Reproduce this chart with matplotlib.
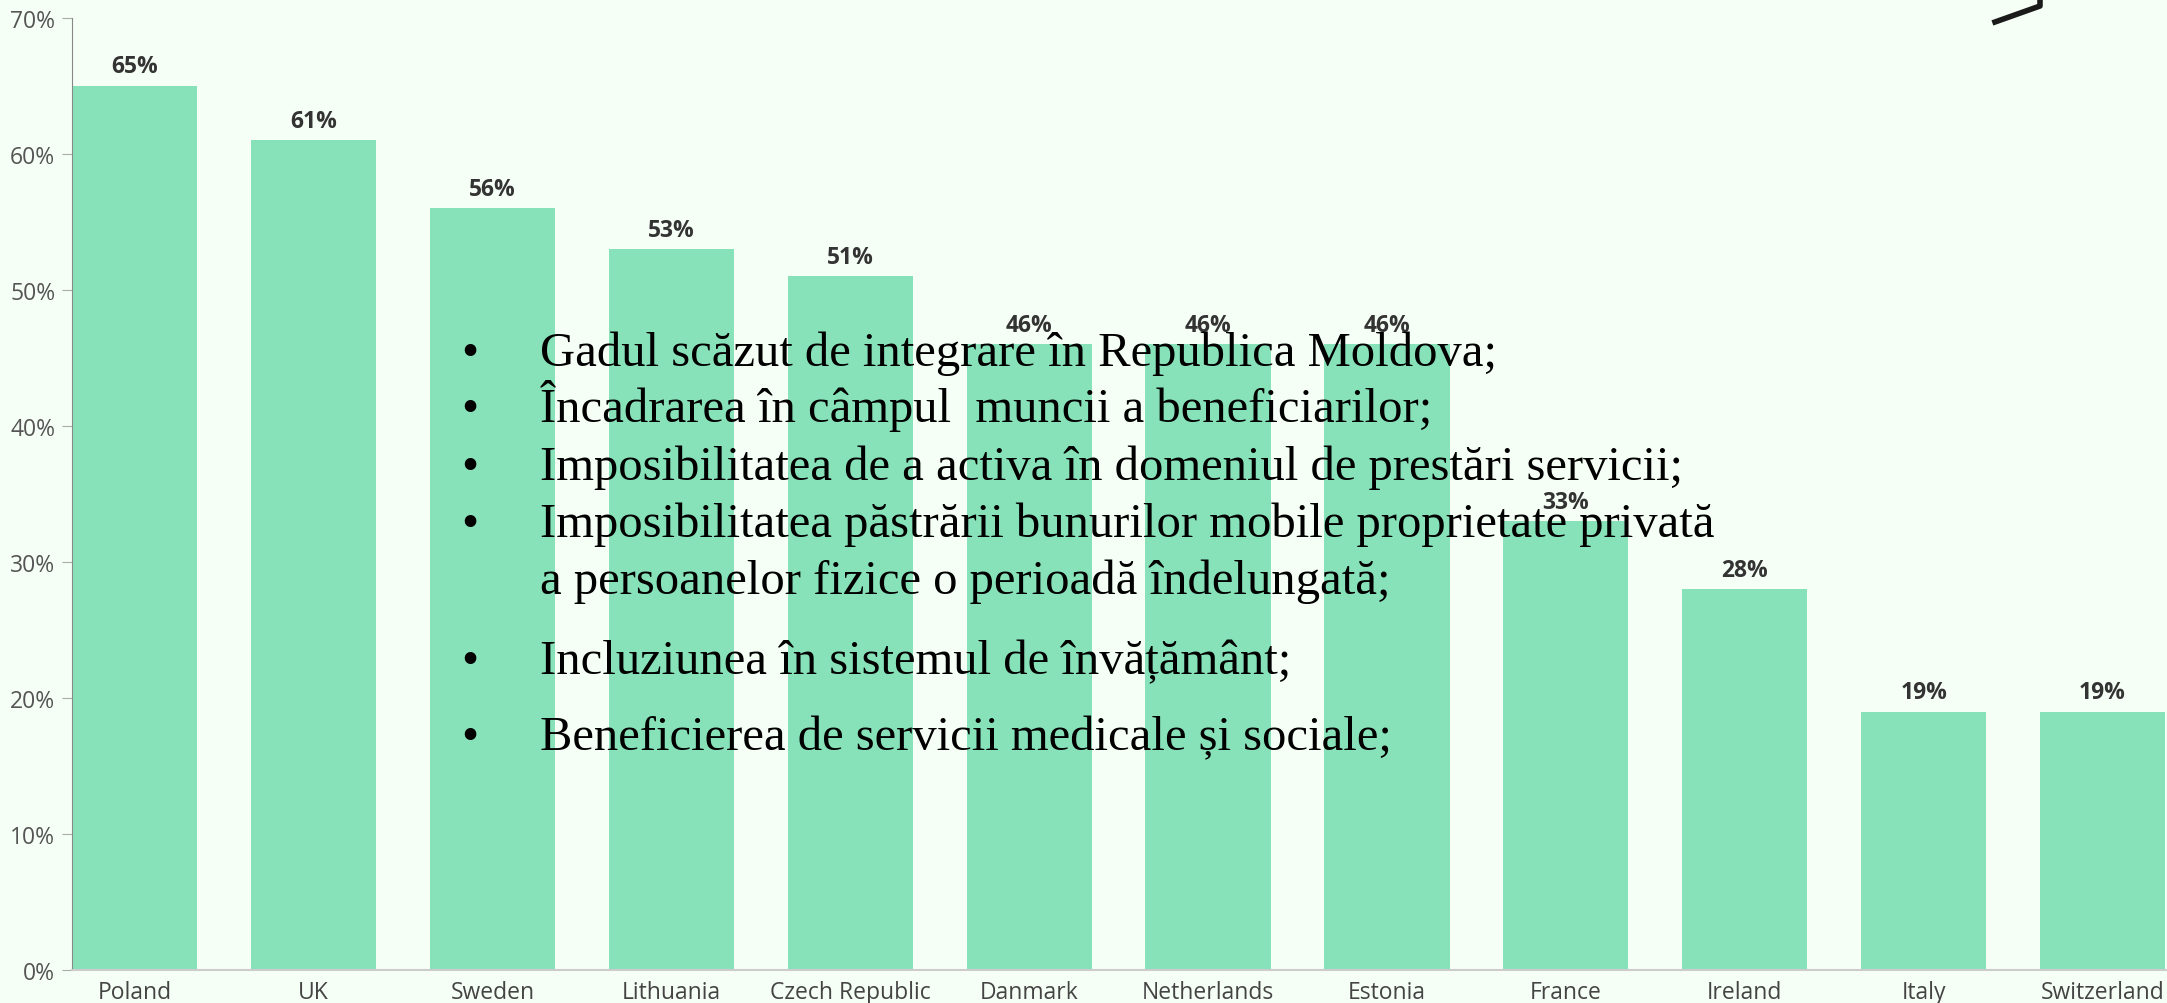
import matplotlib.pyplot as plt
from matplotlib.lines import Line2D

# chart data
countries = ["Poland", "UK", "Sweden", "Lithuania", "Czech Republic", "Danmark",
             "Netherlands", "Estonia", "France", "Ireland", "Italy", "Switzerland"]
shares = [65, 61, 56, 53, 51, 46, 46, 46, 33, 28, 19, 19]
y_ticks = [0, 10, 20, 30, 40, 50, 60, 70]

bullets = [
    "Gadul scăzut de integrare în Republica Moldova;",
    "Încadrarea în câmpul  muncii a beneficiarilor;",
    "Imposibilitatea de a activa în domeniul de prestări servicii;",
    "Imposibilitatea păstrării bunurilor mobile proprietate privată",
    "a persoanelor fizice o perioadă îndelungată;",
    "Incluziunea în sistemul de învățământ;",
    "Beneficierea de servicii medicale și sociale;",
]
has_bullet = [True, True, True, True, False, True, True]

bg = "#f6fff6"
bar_color = "#88e2b9"

fig = plt.figure(figsize=(21.67, 10.04), dpi=100, facecolor=bg)
ax = fig.add_axes([72 / 2167, 1 - 971 / 1004, 1 - 72 / 2167, (971 - 19) / 1004])
ax.set_facecolor(bg)

x = list(range(len(countries)))
ax.bar(x, shares, width=0.70, color=bar_color, zorder=2)

for xi, v in zip(x, shares):
    ax.annotate(f"{v}%", (xi, v), xytext=(0, 5.5), textcoords="offset points",
                ha="center", va="bottom", fontsize=16.5, fontweight="bold",
                color="#333333", family="Open Sans")

ax.set_xlim(-0.35, 11.36)
ax.set_ylim(0, 70)
ax.set_yticks(y_ticks)
ax.set_yticklabels([f"{t}%" for t in y_ticks], fontsize=16.5, color="#555555", family="Open Sans")
ax.set_xticks(x)
ax.set_xticklabels(countries, fontsize=16.5, color="#444444", family="Open Sans")
ax.tick_params(axis="x", length=0, pad=7)
ax.tick_params(axis="y", length=7, color="#aaaaaa", pad=5)

for s in ["top", "right"]:
    ax.spines[s].set_visible(False)
ax.spines["left"].set_color("#888888")
ax.spines["bottom"].set_color("#cccccc")
ax.spines["bottom"].set_linewidth(1.5)

# overlay bullet text (baselines in pixels from top)
baselines = [366, 422, 480, 537, 594, 674, 750]
for yy, txt, b in zip(baselines, bullets, has_bullet):
    if b:
        fig.text(470 / 2167, 1 - yy / 1004, "•", fontsize=35, family="Liberation Serif",
                 va="baseline", ha="center", color="black")
    fig.text(540 / 2167, 1 - yy / 1004, txt, fontsize=35,
             family="Liberation Serif", va="baseline", color="black")

# logo fragment in the corner
fig.add_artist(Line2D([1995 / 2167, 2040 / 2167, 2040 / 2167],
                      [1 - 23 / 1004, 1 - 7 / 1004, 1.0],
                      transform=fig.transFigure, color="#1a1a1a", lw=4))

fig.savefig("out.png", dpi=100, facecolor=bg)
